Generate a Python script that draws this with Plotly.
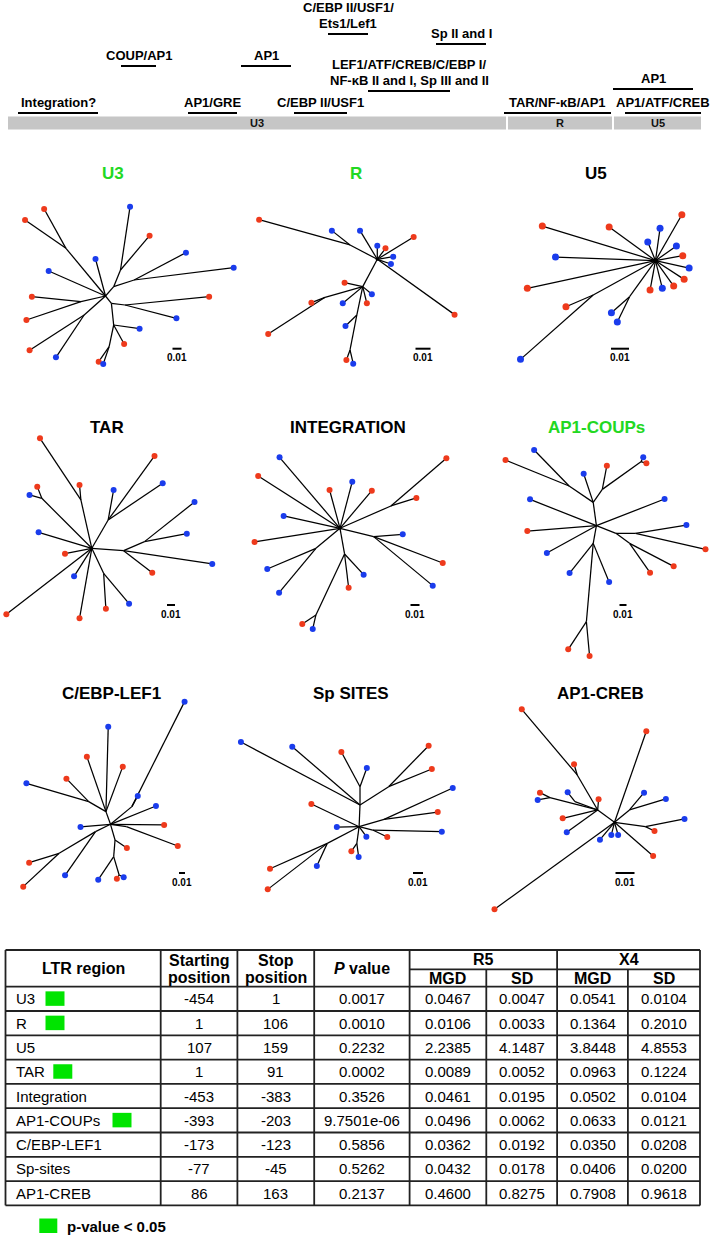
import plotly.graph_objects as go

W, H = 714, 1239
RED = "#ee3a1c"
BLUE = "#1a3cec"
TITLE_GREEN = "#22d822"
SIG_GREEN = "#00e400"
GRAY = "#c6c6c6"
FONT = "Liberation Sans, Arial, sans-serif"

# ---------------- LTR map (schematic units) ----------------
ltr_segments = ["U3", "R", "U5"]
ltr_seg_start = [8, 508, 614]
ltr_seg_end = [506, 612, 701]
site_labels = ["C/EBP II/USF1/\nEts1/Lef1", "Sp II and I", "COUP/AP1", "AP1",
               "LEF1/ATF/CREB/C/EBP I/\nNF-κB II and I, Sp III and II", "AP1",
               "Integration?", "AP1/GRE", "C/EBP II/USF1", "TAR/NF-κB/AP1", "AP1/ATF/CREB"]
site_start = [328, 436, 121, 241, 368, 613, 18, 188, 294, 504, 625]
site_end = [368, 486, 156, 291, 450, 693, 98, 237, 347, 611, 701]
site_tier = [34, 44, 66, 66, 91, 89, 113, 113, 113, 113, 113]

# ---------------- Trees (node coordinates in tree units) ----------------
TREES = {}
TREES["U3"] = dict(
    root=(232, 318),
    nodes=dict(a=(145, 175), n1=(250, 290), n2=(265, 240), n3=(295, 270), n4=(178, 335),
               n5=(185, 375), n6=(245, 340), n6b=(275, 345), n7=(250, 405), n9=(240, 470)),
    edges=[("o", "a"), ("o", "n1"), ("n1", "n2"), ("n1", "n3"), ("o", "n4"), ("o", "n5"),
           ("o", "n6"), ("n6", "n6b"), ("n6", "n7"), ("n7", "n9")],
    leaves=[("a", 97, 57, "r"), ("a", 55, 90, "r"), ("o", 210, 207, "b"), ("o", 107, 243, "b"),
            ("n2", 286, 50, "b"), ("n2", 329, 137, "r"), ("n3", 409, 188, "b"), ("n3", 514, 233, "b"),
            ("n4", 70, 320, "r"), ("n4", 58, 390, "r"), ("n5", 65, 481, "r"), ("n5", 123, 502, "b"),
            ("n6b", 460, 320, "r"), ("n6b", 388, 385, "b"), ("n7", 307, 416, "b"), ("n7", 273, 462, "r"),
            ("n9", 217, 515, "r"), ("n9", 227, 522, "b")])
TREES["R"] = dict(
    root=(830, 208),
    nodes=dict(a=(770, 165), h2=(798, 290), b=(715, 322), c=(785, 375), d=(770, 480)),
    edges=[("o", "a"), ("o", "h2"), ("h2", "b"), ("h2", "c"), ("c", "d")],
    leaves=[("a", 570, 89, "r"), ("a", 730, 122, "b"), ("o", 792, 122, "b"), ("o", 830, 167, "b"),
            ("o", 848, 175, "r"), ("o", 910, 141, "r"), ("o", 865, 200, "b"), ("o", 860, 222, "b"),
            ("o", 1000, 374, "r"), ("h2", 758, 278, "r"), ("b", 685, 338, "r"), ("b", 590, 432, "r"),
            ("h2", 754, 340, "b"), ("h2", 818, 313, "b"), ("h2", 807, 340, "r"), ("c", 760, 408, "b"),
            ("d", 762, 510, "r"), ("d", 777, 521, "b")])
TREES["U5"] = dict(
    root=(1442, 212),
    nodes=dict(a=(1305, 315), b=(1385, 320)),
    edges=[("o", "a"), ("o", "b")],
    leaves=[("o", 1193, 108, "r"), ("o", 1340, 111, "r"), ("o", 1452, 115, "b"), ("o", 1500, 74, "r"),
            ("o", 1425, 156, "b"), ("o", 1488, 168, "b"), ("o", 1502, 197, "r"), ("o", 1222, 201, "b"),
            ("o", 1516, 234, "b"), ("o", 1505, 268, "r"), ("o", 1482, 288, "r"), ("o", 1457, 295, "b"),
            ("o", 1430, 300, "r"), ("o", 1160, 295, "r"), ("a", 1245, 350, "r"), ("a", 1145, 508, "b"),
            ("b", 1345, 368, "b"), ("b", 1358, 396, "b")])
TREES["TAR"] = dict(
    root=(202, 505),
    nodes=dict(a=(178, 360), b=(92, 355), c=(238, 420), d=(272, 512), e=(318, 485), f=(228, 580)),
    edges=[("o", "a"), ("o", "b"), ("o", "c"), ("o", "d"), ("d", "e"), ("o", "f")],
    leaves=[("a", 88, 175, "r"), ("a", 175, 315, "r"), ("b", 82, 320, "r"), ("b", 65, 345, "b"),
            ("c", 250, 330, "b"), ("c", 340, 228, "r"), ("c", 358, 310, "b"), ("o", 85, 457, "b"),
            ("o", 143, 521, "r"), ("e", 428, 366, "b"), ("e", 411, 461, "b"), ("d", 467, 552, "b"),
            ("d", 335, 578, "r"), ("o", 163, 589, "b"), ("o", 14, 703, "r"), ("o", 175, 715, "r"),
            ("f", 233, 686, "r"), ("f", 284, 671, "b")])
TREES["INTEGRATION"] = dict(
    root=(748, 445),
    nodes=dict(a=(860, 378), b=(822, 470), c=(695, 505), d=(758, 522), e=(695, 705)),
    edges=[("o", "a"), ("o", "b"), ("o", "c"), ("o", "d"), ("d", "e")],
    leaves=[("o", 615, 232, "b"), ("o", 568, 288, "r"), ("o", 725, 330, "r"), ("o", 775, 305, "b"),
            ("o", 818, 332, "r"), ("a", 982, 235, "r"), ("a", 916, 354, "r"), ("o", 624, 408, "b"),
            ("o", 560, 486, "r"), ("b", 886, 463, "b"), ("b", 974, 549, "r"), ("b", 952, 617, "b"),
            ("c", 588, 567, "b"), ("c", 614, 638, "b"), ("d", 800, 584, "b"), ("d", 767, 623, "r"),
            ("e", 665, 732, "r"), ("e", 688, 747, "b")])
TREES["AP1-COUPs"] = dict(
    root=(1312, 437),
    nodes=dict(a=(1305, 367), b=(1252, 318), c=(1325, 328), d=(1410, 245), e=(1355, 460),
               f=(1398, 460), g=(1385, 490), h=(1305, 490), i=(1290, 725)),
    edges=[("o", "a"), ("a", "b"), ("a", "c"), ("c", "d"), ("o", "e"), ("e", "f"), ("e", "g"),
           ("o", "h"), ("h", "i")],
    leaves=[("b", 1175, 210, "b"), ("b", 1112, 240, "r"), ("a", 1284, 281, "b"), ("c", 1335, 257, "r"),
            ("d", 1415, 232, "b"), ("d", 1422, 250, "r"), ("o", 1166, 358, "b"), ("o", 1462, 357, "b"),
            ("o", 1160, 453, "r"), ("o", 1203, 519, "b"), ("f", 1510, 435, "b"), ("f", 1552, 508, "r"),
            ("g", 1482, 559, "r"), ("g", 1430, 578, "r"), ("h", 1253, 579, "b"), ("h", 1340, 606, "b"),
            ("i", 1250, 808, "r"), ("i", 1297, 828, "r")])
TREES["C/EBP-LEF1"] = dict(
    root=(243, 643),
    nodes=dict(a=(290, 590), b=(233, 605), c=(195, 575), d=(278, 650), e=(210, 665), f=(130, 730),
               g=(253, 690), h=(250, 740), k=(262, 795)),
    edges=[("o", "a"), ("o", "b"), ("b", "c"), ("o", "d"), ("o", "e"), ("e", "f"), ("o", "g"),
           ("g", "h"), ("h", "k")],
    leaves=[("a", 406, 275, "b"), ("a", 303, 558, "b"), ("b", 238, 350, "b"), ("b", 191, 440, "r"),
            ("b", 270, 470, "r"), ("c", 146, 506, "r"), ("c", 58, 520, "b"), ("o", 343, 588, "b"),
            ("o", 361, 645, "r"), ("d", 391, 708, "r"), ("o", 177, 651, "b"), ("f", 64, 758, "r"),
            ("f", 51, 830, "r"), ("e", 143, 796, "b"), ("g", 279, 714, "r"), ("h", 216, 809, "b"),
            ("k", 257, 806, "r"), ("k", 272, 802, "b")])
TREES["Sp SITES"] = dict(
    root=(790, 650),
    nodes=dict(a=(792, 585), b=(792, 530), c=(855, 530), d=(845, 628), e=(820, 660), f=(785, 700),
               g=(720, 700)),
    edges=[("o", "a"), ("a", "b"), ("a", "c"), ("o", "d"), ("o", "e"), ("o", "f"), ("o", "g")],
    leaves=[("a", 530, 396, "b"), ("a", 643, 410, "b"), ("b", 751, 426, "r"), ("b", 807, 474, "b"),
            ("c", 943, 407, "r"), ("c", 950, 477, "r"), ("d", 996, 534, "b"), ("d", 963, 606, "r"),
            ("o", 685, 582, "r"), ("o", 741, 651, "b"), ("e", 972, 665, "b"), ("e", 852, 681, "r"),
            ("o", 806, 680, "b"), ("f", 773, 724, "r"), ("f", 789, 741, "b"), ("g", 594, 776, "r"),
            ("g", 589, 838, "r"), ("g", 697, 768, "b")])
TREES["AP1-CREB"] = dict(
    root=(1352, 637),
    nodes=dict(a=(1315, 600), b=(1270, 495), c=(1210, 563), d=(1265, 575), e=(1385, 600), f=(1420, 650)),
    edges=[("o", "a"), ("a", "b"), ("a", "c"), ("a", "d"), ("o", "e"), ("o", "f")],
    leaves=[("b", 1148, 298, "r"), ("b", 1263, 463, "r"), ("c", 1188, 548, "r"), ("c", 1183, 570, "b"),
            ("d", 1249, 547, "b"), ("a", 1317, 568, "r"), ("a", 1238, 625, "r"), ("a", 1247, 667, "b"),
            ("o", 1422, 364, "r"), ("e", 1417, 548, "b"), ("e", 1465, 567, "b"), ("f", 1506, 627, "b"),
            ("f", 1440, 663, "r"), ("o", 1437, 738, "r"), ("o", 1320, 689, "b"), ("o", 1345, 675, "b"),
            ("o", 1360, 675, "b"), ("o", 1088, 898, "r")])

tree_names = ["U3", "R", "U5", "TAR", "INTEGRATION", "AP1-COUPs", "C/EBP-LEF1", "Sp SITES", "AP1-CREB"]
tree_significant = [True, True, False, False, False, True, False, False, False]
scalebar_len = [9, 15, 18, 8, 9, 7, 6, 10, 19]   # drawn length of the 0.01 bar

# ---------------- Table data ----------------
regions = ["U3", "R", "U5", "TAR", "Integration", "AP1-COUPs", "C/EBP-LEF1", "Sp-sites", "AP1-CREB"]
start_pos = ["-454", "1", "107", "1", "-453", "-393", "-173", "-77", "86"]
stop_pos = ["1", "106", "159", "91", "-383", "-203", "-123", "-45", "163"]
p_values = ["0.0017", "0.0010", "0.2232", "0.0002", "0.3526", "9.7501e-06", "0.5856", "0.5262", "0.2137"]
r5_mgd = ["0.0467", "0.0106", "2.2385", "0.0089", "0.0461", "0.0496", "0.0362", "0.0432", "0.4600"]
r5_sd = ["0.0047", "0.0033", "4.1487", "0.0052", "0.0195", "0.0062", "0.0192", "0.0178", "0.8275"]
x4_mgd = ["0.0541", "0.1364", "3.8448", "0.0963", "0.0502", "0.0633", "0.0350", "0.0406", "0.7908"]
x4_sd = ["0.0104", "0.2010", "4.8553", "0.1224", "0.0104", "0.0121", "0.0208", "0.0200", "0.9618"]
significant = [True, True, False, True, False, True, False, False, False]

# ---------------- Layout constants ----------------
tree_anchor = [(105.5, 296), (377.3, 259.3), (655.5, 260.7),
               (91.8, 548.3), (340.0, 528.3), (596.4, 525.7),
               (110.5, 824.3), (359.1, 826.7), (614.5, 822.3)]
title_pos = [(113, 173), (356, 173), (596, 173),
             (107, 427), (348, 427), (596, 427),
             (111, 693), (351, 693), (600, 693)]
scalebar_pos = [(177, 348.7), (423, 348.7), (620, 348.7),
                (171, 605), (415, 605), (623, 605),
                (182, 873), (418, 873), (625, 873)]
SX, SY = 1 / 2.2, 1 / 3.0
sig_square_x = {"U3": 45.5, "R": 45.5, "TAR": 53.3, "AP1-COUPs": 112.5}
LABEL_GAP = 10.5     # bar to centre of the nearest label line
LABEL_LINE = 15.8    # spacing between label lines

fig = go.Figure()
shapes = []
annotations = []

# LTR bar
for name, s, e in zip(ltr_segments, ltr_seg_start, ltr_seg_end):
    shapes.append(dict(type="rect", xref="x", yref="y", x0=s, x1=e, y0=116.5, y1=129.5,
                       fillcolor=GRAY, line=dict(width=0), layer="below"))
    annotations.append(dict(x=(s + e) / 2, y=123, text=f"<b>{name}</b>", showarrow=False,
                            font=dict(family=FONT, size=11, color="#111"), xanchor="center", yanchor="middle"))
for lab, s, e, t in zip(site_labels, site_start, site_end, site_tier):
    shapes.append(dict(type="line", xref="x", yref="y", x0=s, x1=e, y0=t, y1=t,
                       line=dict(color="black", width=2)))
    lines = lab.split("\n")
    for k, ln in enumerate(reversed(lines)):
        annotations.append(dict(x=(s + e) / 2, y=t - LABEL_GAP - k * LABEL_LINE, text=f"<b>{ln}</b>",
                                showarrow=False, font=dict(family=FONT, size=13, color="black"),
                                xanchor="center", yanchor="middle"))

# Trees
for idx, name in enumerate(tree_names):
    t = TREES[name]
    ax, ay = tree_anchor[idx]
    rx, ry = t["root"]
    pts = dict(t["nodes"])
    pts["o"] = t["root"]

    def tx(p):
        return ax + (p[0] - rx) * SX, ay + (p[1] - ry) * SY

    lx, ly = [], []
    for p, c in t["edges"]:
        x0, y0 = tx(pts[p]); x1, y1 = tx(pts[c])
        lx += [x0, x1, None]; ly += [y0, y1, None]
    mx, my, mc = [], [], []
    for p, x, y, col in t["leaves"]:
        x0, y0 = tx(pts[p]); x1, y1 = tx((x, y))
        lx += [x0, x1, None]; ly += [y0, y1, None]
        mx.append(x1); my.append(y1); mc.append(RED if col == "r" else BLUE)
    fig.add_trace(go.Scatter(x=lx, y=ly, mode="lines", line=dict(color="black", width=1.25),
                             hoverinfo="skip", showlegend=False))
    msize = 7 if name == "U5" else 6
    fig.add_trace(go.Scatter(x=mx, y=my, mode="markers", marker=dict(color=mc, size=msize, line=dict(width=0)),
                             hoverinfo="skip", showlegend=False))
    if name in ("R", "U5", "TAR", "INTEGRATION"):
        fig.add_trace(go.Scatter(x=[ax], y=[ay], mode="markers",
                                 marker=dict(color="black", size=5 if name == "U5" else 3),
                                 hoverinfo="skip", showlegend=False))
    tx_, ty_ = title_pos[idx]
    annotations.append(dict(x=tx_, y=ty_, text=f"<b>{name}</b>", showarrow=False,
                            font=dict(family=FONT, size=17,
                                      color=TITLE_GREEN if tree_significant[idx] else "black"),
                            xanchor="center", yanchor="middle"))
    sx_, sy_ = scalebar_pos[idx]
    L = scalebar_len[idx]
    shapes.append(dict(type="line", xref="x", yref="y", x0=sx_ - L / 2, x1=sx_ + L / 2, y0=sy_, y1=sy_,
                       line=dict(color="black", width=2)))
    annotations.append(dict(x=sx_, y=sy_ + 9, text="<b>0.01</b>", showarrow=False,
                            font=dict(family=FONT, size=10, color="black"), xanchor="center", yanchor="middle"))

# Table
col_edges = [5.5, 160.7, 237.4, 314.2, 409.6, 486.3, 557.1, 627.9, 700]
T_TOP, T_MID, T_HB = 950, 969.3, 986.7
ROW_H = 24.3
n = len(regions)
T_BOT = T_HB + n * ROW_H
LW = 1.8
line_c = "#222"
shapes.append(dict(type="line", xref="x", yref="y", x0=col_edges[0], x1=col_edges[-1], y0=T_TOP, y1=T_TOP,
                   line=dict(color=line_c, width=LW)))
shapes.append(dict(type="line", xref="x", yref="y", x0=col_edges[4], x1=col_edges[-1], y0=T_MID, y1=T_MID,
                   line=dict(color=line_c, width=LW)))
for i in range(n + 1):
    y = T_HB + i * ROW_H
    shapes.append(dict(type="line", xref="x", yref="y", x0=col_edges[0], x1=col_edges[-1], y0=y, y1=y,
                       line=dict(color=line_c, width=LW)))
for j, x in enumerate(col_edges):
    y0 = T_MID if j in (5, 7) else T_TOP
    shapes.append(dict(type="line", xref="x", yref="y", x0=x, x1=x, y0=y0, y1=T_BOT,
                       line=dict(color=line_c, width=LW)))

HF = dict(family=FONT, size=16, color="black")
BF = dict(family=FONT, size=15, color="black")
hc = (T_TOP + T_HB) / 2
l1, l2 = 960.7, 977.3
c = lambda a, b: (col_edges[a] + col_edges[b]) / 2
header = [
    (c(0, 1), hc, "<b>LTR region</b>"),
    (c(1, 2), l1, "<b>Starting</b>"), (c(1, 2), l2, "<b>position</b>"),
    (c(2, 3), l1, "<b>Stop</b>"), (c(2, 3), l2, "<b>position</b>"),
    (c(3, 4), hc, "<b><i>P</i> value</b>"),
    (c(4, 6), (T_TOP + T_MID) / 2, "<b>R5</b>"),
    (c(6, 8), (T_TOP + T_MID) / 2, "<b>X4</b>"),
    (c(4, 5), (T_MID + T_HB) / 2, "<b>MGD</b>"),
    (c(5, 6), (T_MID + T_HB) / 2, "<b>SD</b>"),
    (c(6, 7), (T_MID + T_HB) / 2, "<b>MGD</b>"),
    (c(7, 8), (T_MID + T_HB) / 2, "<b>SD</b>"),
]
for x, y, txt in header:
    annotations.append(dict(x=x, y=y, text=txt, font=HF, showarrow=False,
                            xanchor="center", yanchor="middle"))

for i in range(n):
    yc = T_HB + (i + 0.5) * ROW_H
    annotations.append(dict(x=col_edges[0] + 8, y=yc, text=regions[i], font=BF, showarrow=False,
                            xanchor="left", yanchor="middle"))
    cols = [start_pos[i], stop_pos[i], p_values[i], r5_mgd[i], r5_sd[i], x4_mgd[i], x4_sd[i]]
    for j, v in enumerate(cols):
        annotations.append(dict(x=c(j + 1, j + 2), y=yc, text=v, font=BF,
                                showarrow=False, xanchor="center", yanchor="middle"))
    if significant[i]:
        x0 = sig_square_x[regions[i]]
        shapes.append(dict(type="rect", xref="x", yref="y", x0=x0, x1=x0 + 19, y0=yc - 7.5, y1=yc + 7,
                           fillcolor=SIG_GREEN, line=dict(width=0)))

# legend
shapes.append(dict(type="rect", xref="x", yref="y", x0=39.3, x1=57.3, y0=1218.5, y1=1233,
                   fillcolor=SIG_GREEN, line=dict(width=0)))
annotations.append(dict(x=65, y=1226.5, text="<b>p-value < 0.05</b>", showarrow=False,
                        font=dict(family=FONT, size=15, color="black"), xanchor="left", yanchor="middle"))

fig.update_layout(
    width=W, height=H, margin=dict(l=0, r=0, t=0, b=0),
    paper_bgcolor="white", plot_bgcolor="white",
    xaxis=dict(range=[0, W], visible=False, fixedrange=True),
    yaxis=dict(range=[H, 0], visible=False, fixedrange=True),
    shapes=shapes, annotations=annotations, showlegend=False,
)
fig.write_html("out.html", config={"displayModeBar": False},
               post_script="document.body.style.margin='0';")
